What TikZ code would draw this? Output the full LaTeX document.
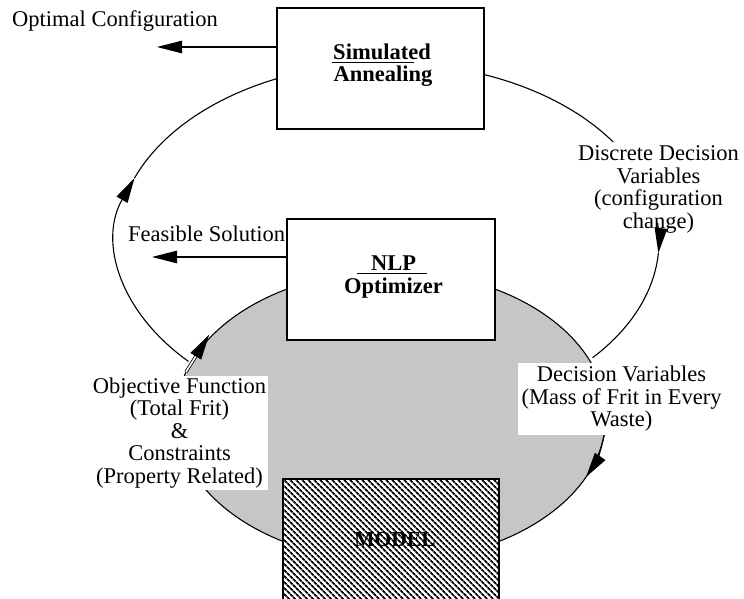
\documentclass[tikz,border=0pt]{standalone}
\usepackage{fontspec}
\setmainfont{Liberation Serif}
\usetikzlibrary{arrows.meta,patterns.meta,calc}
\begin{document}
\begin{tikzpicture}[x=1pt,y=1pt,
  txt/.style={font=\fontsize{22.5}{22.5}\selectfont, inner sep=0pt},
  btxt/.style={font=\fontsize{22.5}{22.5}\selectfont\bfseries, inner sep=0pt},
  boxn/.style={draw, line width=1.2pt, fill=white, inner sep=0pt},
  tip/.style={-{Triangle[length=25pt,width=12.5pt]}},
  ln/.style={line width=1.1pt},
  loopr/.style={x radius=271pt, y radius=178pt},
  ellr/.style={x radius=215pt, y radius=145pt}
]
\useasboundingbox (0,0) rectangle (744,598);
\coordinate (lc) at (388,357);
\coordinate (ec) at (391,182);
% gray ellipse
\draw[ln, fill=gray!45] (ec) ellipse [ellr];
% loop
\draw[ln, tip] ([shift={(lc)}]222.6:271pt and 178pt) arc[start angle=222.6, end angle=159.3, loopr];
\draw[ln] ([shift={(lc)}]159.3:271pt and 178pt) arc[start angle=159.3, end angle=114.2, loopr];
\draw[ln] ([shift={(lc)}]69.3:271pt and 178pt) arc[start angle=69.3, end angle=33.8, loopr];
\draw[ln, tip] ([shift={(lc)}]5.8:271pt and 178pt) arc[start angle=5.8, end angle=-3.9, loopr];
\draw[ln] ([shift={(lc)}]-3.9:271pt and 178pt) arc[start angle=-3.9, end angle=-41, loopr];
% arrow on gray ellipse
\draw[ln, tip] ([shift={(ec)}]-6.3:215pt and 145pt) arc[start angle=-6.3, end angle=-24.9, ellr];
% boxes
\node[boxn, minimum width=207pt, minimum height=121pt] (sa) at (380.5,529.5) {};
\node[boxn, minimum width=208pt, minimum height=121pt] (nlp) at (391,318.5) {};
\node[draw, line width=1.2pt, inner sep=0pt, preaction={fill=white},
      pattern={Lines[angle=-45,distance=4pt,line width=1.8pt]},
      minimum width=216pt, minimum height=130pt] (model) at (391,54) {};
% box texts
\node[btxt, anchor=base] (sim) at (382,538) {Simulated};
\node[btxt, anchor=base] (ann) at (383,516) {Annealing};
\draw[line width=1pt] (332,535) -- (414,535);
\node[btxt, anchor=base] (nlpt) at (393.5,327) {NLP};
\draw[line width=1pt] (357,325) -- (427,325);
\node[btxt, anchor=base] (opt) at (393.5,305) {Optimizer};
\node[font=\fontsize{21.5}{21.5}\selectfont\bfseries, inner sep=0pt, anchor=base] (modelt) at (395,52) {MODEL};
% outputs
\node[txt, anchor=base west] (optc) at (12,571) {Optimal Configuration};
\coordinate (optend) at (157,551);
\draw[ln, tip] (sa.west |- optend) -- (optend);
\node[txt, anchor=base west] (feas) at (128,356) {Feasible Solution};
\coordinate (feasend) at (152,341);
\draw[ln, tip] (nlp.west |- feasend) -- (feasend);
% labels
\node[txt, align=center, anchor=north] (disc) at (658.5,452.5)
  {Discrete Decision\\Variables\\(configuration\\change)};
\node[txt, align=center, anchor=north, fill=white, inner sep=1.5pt] (obj) at (179.5,222)
  {Objective Function\\(Total Frit)\\\&\\Constraints\\(Property Related)};
\node[txt, align=center, anchor=north, fill=white, inner xsep=4pt, inner ysep=3pt] (dec) at (621.5,235)
  {Decision Variables\\(Mass of Frit in Every\\Waste)};
% objective double arrow
\coordinate (objs) at (186,226);
\coordinate (objt) at (209,263);
\draw[double, double distance=1.6pt, line width=0.8pt, shorten >=18pt] (objs) -- (objt);
\draw[tip] ($(objt)!1pt!(objs)$) -- (objt);
\end{tikzpicture}
\end{document}
